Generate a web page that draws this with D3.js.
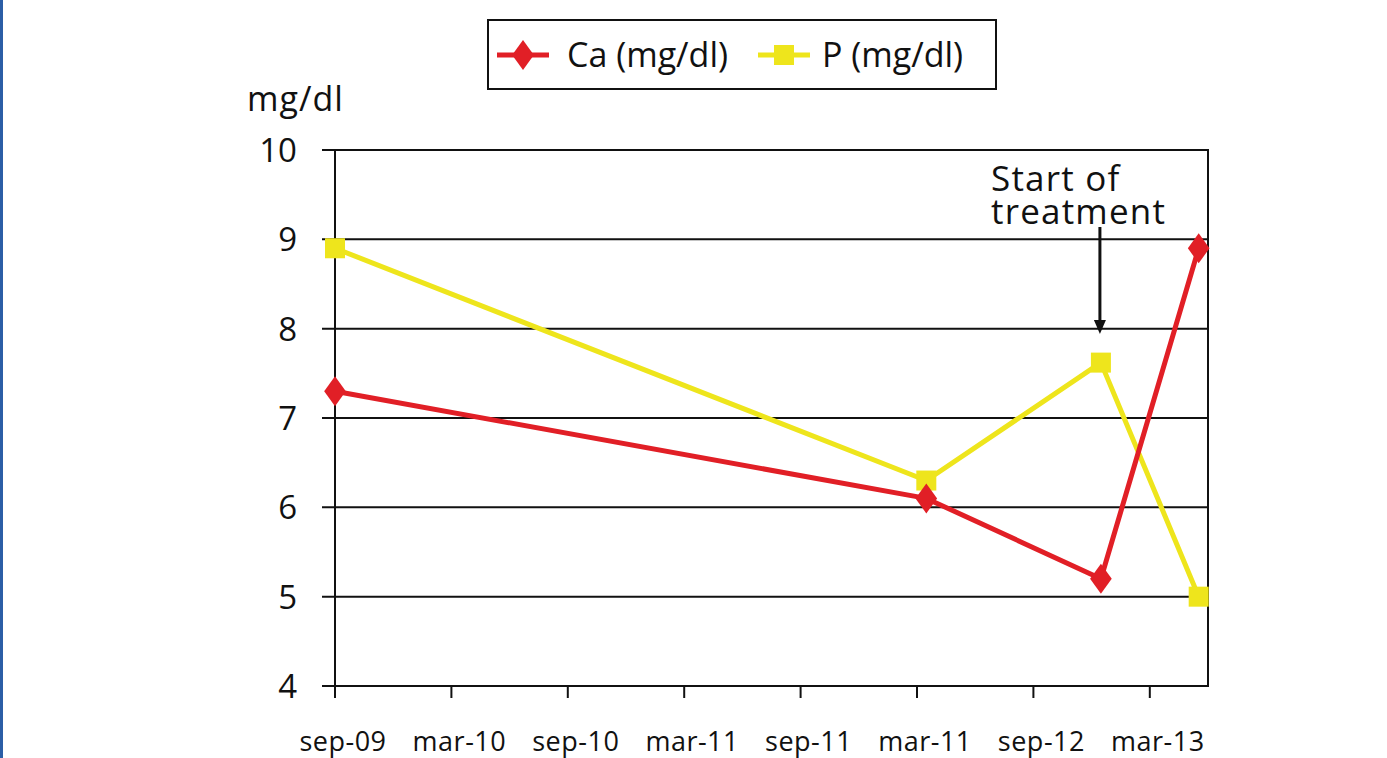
<!DOCTYPE html>
<html>
<head>
<meta charset="utf-8">
<script src="https://cdn.jsdelivr.net/npm/d3@7"></script>
<style>
  body { margin: 0; background: #fff; }
  svg text { font-family: "Open Sans", "Noto Sans", sans-serif; fill: #111; }
</style>
</head>
<body>
<script>
// tick labels along x (half-year steps)
var xLabels = ["sep-09", "mar-10", "sep-10", "mar-11", "sep-11", "mar-11", "sep-12", "mar-13"];
// sample positions, in half-year steps from sep-09
var samplePos = [0, 5.08, 6.58, 7.42];
var caValues = [7.3, 6.1, 5.2, 8.9];
var pValues = [8.9, 6.3, 7.62, 5.0];
var yTicks = [4, 5, 6, 7, 8, 9, 10];
var treatmentPos = 6.58;

var w = 1387, h = 758;
var margin = {left: 335, right: 179, top: 150, bottom: 72};
var red = "#e11f26", yellow = "#eee51c";

var svg = d3.select("body").append("svg")
    .attr("width", w)
    .attr("height", h);

// blue left border
svg.append("rect").attr("x", 0).attr("y", 0).attr("width", 3).attr("height", h)
    .attr("fill", "#2b5ea6");

var x = d3.scaleLinear().domain([0, 7.5]).range([margin.left, w - margin.right]);
var y = d3.scaleLinear().domain([4, 10]).range([h - margin.bottom, margin.top]);

// gridlines
svg.append("g").selectAll("line")
    .data(yTicks)
    .enter().append("line")
    .attr("x1", x(0) - 13).attr("x2", x(7.5))
    .attr("y1", function (d) { return y(d); })
    .attr("y2", function (d) { return y(d); })
    .attr("stroke", "#111").attr("stroke-width", 2);

// frame
svg.append("rect")
    .attr("x", x(0)).attr("y", y(10))
    .attr("width", x(7.5) - x(0)).attr("height", y(4) - y(10))
    .attr("fill", "none").attr("stroke", "#111").attr("stroke-width", 2);

// y axis labels
svg.append("g").selectAll("text")
    .data(yTicks)
    .enter().append("text")
    .attr("x", x(0) - 38)
    .attr("y", function (d) { return y(d) + 12; })
    .attr("text-anchor", "end")
    .attr("font-size", 33)
    .text(function (d) { return d; });

svg.append("text").attr("x", 247).attr("y", 111)
    .attr("font-size", 34).attr("letter-spacing", 1).text("mg/dl");

// x axis ticks + labels
var xt = svg.append("g");
xt.selectAll("line")
    .data(xLabels)
    .enter().append("line")
    .attr("x1", function (d, i) { return x(i); })
    .attr("x2", function (d, i) { return x(i); })
    .attr("y1", y(4)).attr("y2", y(4) + 12)
    .attr("stroke", "#111").attr("stroke-width", 2);
xt.selectAll("text")
    .data(xLabels)
    .enter().append("text")
    .attr("x", function (d, i) { return x(i) + 8; })
    .attr("y", 751)
    .attr("text-anchor", "middle")
    .attr("font-size", 27)
    .attr("letter-spacing", 0.5)
    .text(function (d) { return d; });

function series(vals, color) {
    var pts = vals.map(function (v, i) { return [samplePos[i], v]; });
    svg.append("path")
        .datum(pts)
        .attr("fill", "none")
        .attr("stroke", color)
        .attr("stroke-width", 5)
        .attr("stroke-linejoin", "round")
        .attr("d", d3.line().x(function (d) { return x(d[0]); }).y(function (d) { return y(d[1]); }));
    return pts;
}

var pPts = series(pValues, yellow);
svg.append("g").selectAll("rect")
    .data(pPts)
    .enter().append("rect")
    .attr("x", function (d) { return x(d[0]) - 10; })
    .attr("y", function (d) { return y(d[1]) - 10; })
    .attr("width", 20).attr("height", 20)
    .attr("fill", yellow);

var caPts = series(caValues, red);
var diamond = d3.symbol().type(d3.symbolDiamond).size(260);
svg.append("g").selectAll("path")
    .data(caPts)
    .enter().append("path")
    .attr("d", diamond)
    .attr("transform", function (d) { return "translate(" + x(d[0]) + "," + y(d[1]) + ") scale(1.25,1)"; })
    .attr("fill", red);

// annotation
var ax = x(treatmentPos) - 1;
svg.append("line").attr("x1", ax).attr("x2", ax).attr("y1", 227).attr("y2", 322)
    .attr("stroke", "#111").attr("stroke-width", 3);
svg.append("path")
    .attr("d", "M" + (ax - 6) + ",320 L" + (ax + 6) + ",320 L" + ax + ",334 Z")
    .attr("fill", "#111");
var note = svg.append("text").attr("font-size", 35).attr("letter-spacing", 1.2);
note.append("tspan").attr("x", 991).attr("y", 191).text("Start of");
note.append("tspan").attr("x", 991).attr("y", 224).text("treatment");

// legend
var lg = svg.append("g");
lg.append("rect").attr("x", 488).attr("y", 20).attr("width", 508).attr("height", 69)
    .attr("fill", "#fff").attr("stroke", "#111").attr("stroke-width", 2);
var legendItems = [
    {name: "Ca (mg/dl)", color: red, x0: 497, tx: 567},
    {name: "P (mg/dl)", color: yellow, x0: 758, tx: 822}
];
legendItems.forEach(function (it, i) {
    lg.append("line").attr("x1", it.x0).attr("x2", it.x0 + 52)
        .attr("y1", 55).attr("y2", 55)
        .attr("stroke", it.color).attr("stroke-width", 5);
    if (i === 0) {
        lg.append("path").attr("d", diamond)
            .attr("transform", "translate(" + (it.x0 + 26) + ",55) scale(1.25,1)")
            .attr("fill", it.color);
    } else {
        lg.append("rect").attr("x", it.x0 + 16).attr("y", 45).attr("width", 20).attr("height", 20)
            .attr("fill", it.color);
    }
    lg.append("text").attr("x", it.tx).attr("y", 67).attr("font-size", 34).text(it.name);
});
</script>
</body>
</html>
